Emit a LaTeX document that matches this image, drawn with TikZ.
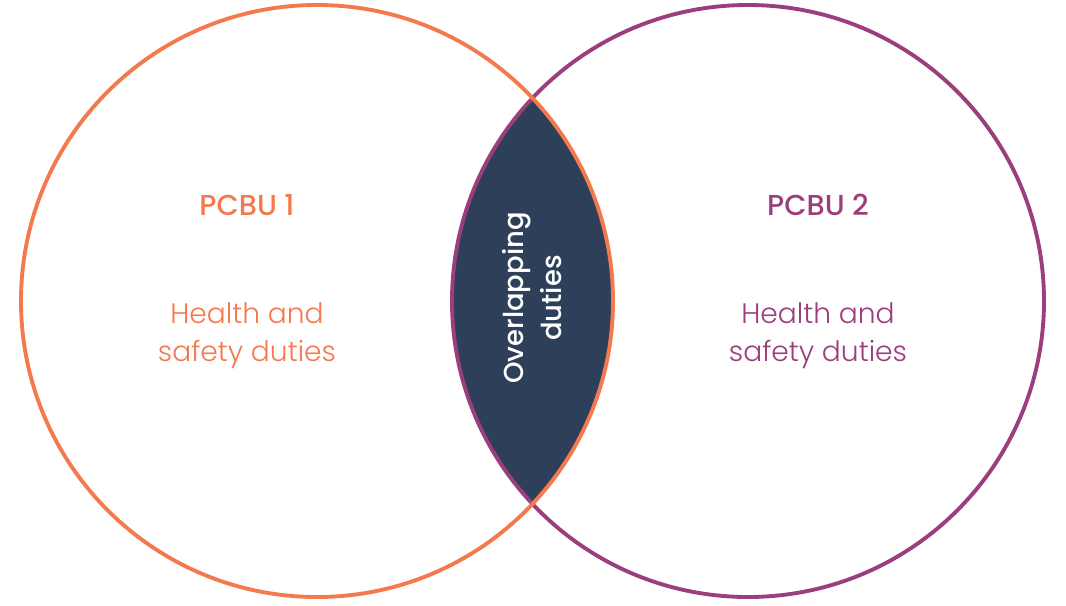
\documentclass[tikz,border=0pt]{standalone}
\usepackage{fontspec}
\setmainfont{Poppins}[UprightFont=* Light, BoldFont=* Medium]
\definecolor{pcbuorange}{RGB}{244,121,78}
\definecolor{pcbupurple}{RGB}{154,62,126}
\definecolor{lensnavy}{RGB}{46,63,89}
\begin{document}
\begin{tikzpicture}[x=0.01cm,y=-0.01cm,
  ring/.style={line width=1.1pt},
  title/.style={font=\fontsize{8.2}{10.8}\selectfont\bfseries, align=center},
  body/.style={font=\fontsize{8}{10.8}\selectfont, align=center}]
\useasboundingbox (0,0) rectangle (1066,606);
\coordinate (c1) at (317,301);
\coordinate (c2) at (748,301);
\begin{scope}
  \clip (c1) circle[radius=296];
  \fill[lensnavy] (c2) circle[radius=296];
\end{scope}
\draw[ring, pcbupurple] (c2) circle[radius=296];
\draw[ring, pcbuorange] (c1) circle[radius=296];
\node[title, text=pcbuorange] (t1) at (247,205) {PCBU 1};
\node[body, text=pcbuorange] (b1) at (247,336) {Health and\\safety duties};
\node[title, text=pcbupurple] (t2) at (818,205) {PCBU 2};
\node[body, text=pcbupurple] (b2) at (818,336) {Health and\\safety duties};
\node[body, font=\fontsize{7.8}{10.8}\selectfont\bfseries, text=white, rotate=90] (ov) at (532,298) {Overlapping\\duties};
\end{tikzpicture}
\end{document}
